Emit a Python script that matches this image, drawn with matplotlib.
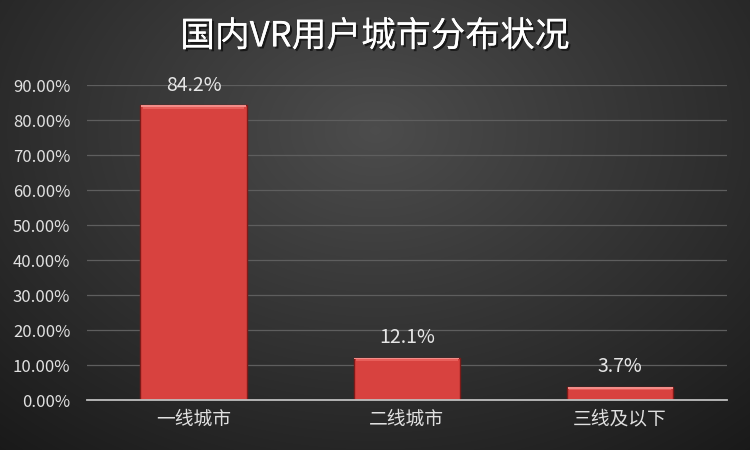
import numpy as np
import matplotlib
matplotlib.use("Agg")
import matplotlib.pyplot as plt
from matplotlib.ticker import FuncFormatter
import matplotlib.patheffects as pe

plt.rcParams['font.family'] = ['Noto Sans CJK SC', 'DejaVu Sans']

categories = ['一线城市', '二线城市', '三线及以下']
values = [84.2, 12.1, 3.7]
value_labels = ['84.2%', '12.1%', '3.7%']
title = '国内VR用户城市分布状况'

fig = plt.figure(figsize=(7.5, 4.5), dpi=100)

# radial gradient background
bg = fig.add_axes([0, 0, 1, 1], zorder=-10)
yy, xx = np.mgrid[0:450, 0:750]
r = np.sqrt(((xx - 375) / 520.0) ** 2 + ((yy - 130) / 380.0) ** 2)
g = np.clip(0.30 - 0.18 * r, 0.10, 0.30)
img = np.dstack([g, g, g])
bg.imshow(img, aspect='auto', extent=[0, 1, 0, 1])
bg.axis('off')

ax = fig.add_axes([0.116, 0.111, 0.853, 0.70])
ax.set_facecolor('none')
x = np.arange(len(categories))
w = 0.5
ax.bar(x, values, width=w, color='#d8423f', edgecolor='#7e1a18', linewidth=1.0, zorder=3)
# bevel highlights
ax.bar(x, [0.9] * 3, bottom=[v - 0.9 for v in values], width=w * 0.95, color='#e85e5a', linewidth=0, zorder=4)
ax.bar(x, [0.4] * 3, bottom=[v - 0.4 for v in values], width=w * 0.985, color='#f28c88', linewidth=0, zorder=5)

for xi, v, lab in zip(x, values, value_labels):
    ax.text(xi, v + 2.8, lab, ha='center', va='bottom', color='#e6e6e6', fontsize=14)

ax.set_ylim(0, 90)
ax.set_xlim(-0.5, 2.5)
ax.set_yticks(np.arange(0, 91, 10))
ax.yaxis.set_major_formatter(FuncFormatter(lambda v, p: f'{v:.2f}%'))
ax.grid(axis='y', color='#5e5e5e', linewidth=0.9, zorder=0)
ax.set_axisbelow(True)
for s in ['top', 'right', 'left']:
    ax.spines[s].set_visible(False)
ax.spines['bottom'].set_color('#bfbfbf')
ax.spines['bottom'].set_linewidth(1.3)
ax.spines['bottom'].set_zorder(6)
ax.tick_params(axis='y', length=0, colors='#e0e0e0', labelsize=12, pad=12)
ax.tick_params(axis='x', length=0, colors='#e0e0e0', labelsize=13.5, pad=6)
ax.set_xticks(x)
ax.set_xticklabels(categories)

fig.text(0.5, 0.918, title, ha='center', va='center', color='white', fontsize=25,
         path_effects=[pe.withSimplePatchShadow(offset=(1.5, -1.5), shadow_rgbFace='black', alpha=0.6), pe.Normal()])

fig.savefig('out.png', dpi=100)
